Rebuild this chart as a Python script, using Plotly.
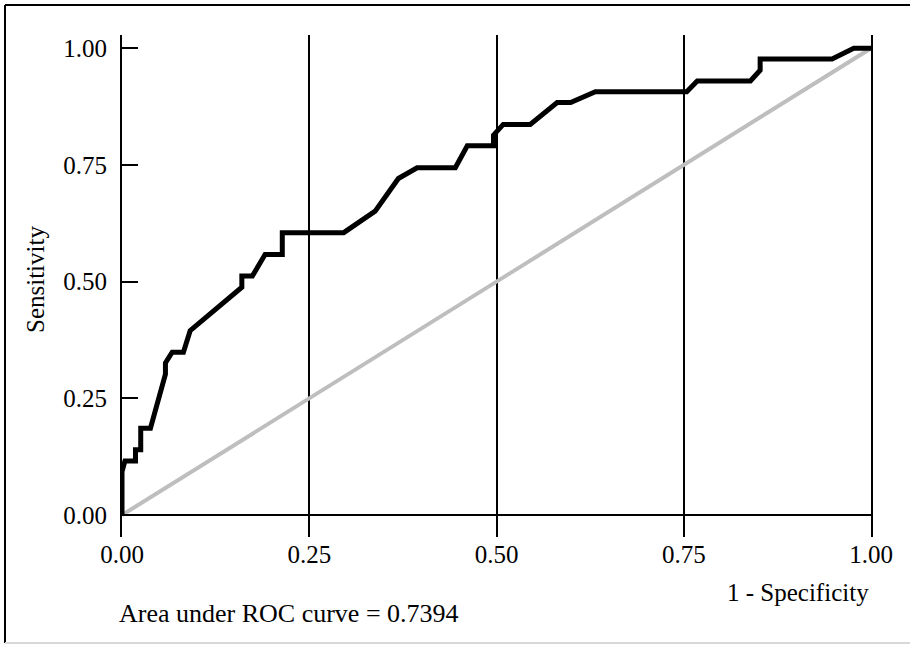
import plotly.graph_objects as go

# ROC curve vertices (1 - specificity, sensitivity)
fpr = [0.0, 0.0, 0.004, 0.018, 0.018, 0.025, 0.025, 0.038, 0.058, 0.058,
       0.067, 0.082, 0.091, 0.160, 0.160, 0.174, 0.191, 0.214, 0.214, 0.296,
       0.338, 0.369, 0.394, 0.445, 0.461, 0.496, 0.496, 0.509, 0.545, 0.581,
       0.599, 0.632, 0.754, 0.768, 0.839, 0.852, 0.852, 0.948, 0.977, 1.0]
tpr = [0.0, 0.093, 0.116, 0.116, 0.140, 0.140, 0.186, 0.186, 0.302, 0.326,
       0.349, 0.349, 0.395, 0.488, 0.512, 0.512, 0.558, 0.558, 0.605, 0.605,
       0.651, 0.721, 0.744, 0.744, 0.791, 0.791, 0.814, 0.837, 0.837, 0.884,
       0.884, 0.907, 0.907, 0.930, 0.930, 0.953, 0.977, 0.977, 1.0, 1.0]
ref_x = [0.0, 1.0]
ref_y = [0.0, 1.0]
tick_vals = [0.0, 0.25, 0.5, 0.75, 1.0]
tick_text = ["0.00", "0.25", "0.50", "0.75", "1.00"]
auc_text = "Area under ROC curve = 0.7394"

W, H = 910, 645
ML, MR, MT, MB = 122, 39, 35, 108
FONT = "Liberation Serif"
FS = 25

plot_w = W - ML - MR
plot_h = H - MT - MB


def px_x(px):
    return (px - ML) / plot_w


def px_y(py):
    return (H - MB - py) / plot_h


fig = go.Figure()
fig.add_trace(go.Scatter(x=ref_x, y=ref_y, mode="lines",
                         line=dict(color="#bebebe", width=4), hoverinfo="skip"))
fig.add_trace(go.Scatter(x=fpr, y=tpr, mode="lines",
                         line=dict(color="black", width=5)))

fig.update_layout(
    width=W, height=H,
    margin=dict(l=ML, r=MR, t=MT, b=MB),
    paper_bgcolor="white", plot_bgcolor="white",
    showlegend=False,
    font=dict(family=FONT, size=FS, color="black"),
    xaxis=dict(range=[0, 1], tickvals=tick_vals, ticktext=tick_text,
               showgrid=True, gridcolor="black", gridwidth=2,
               zeroline=False, showline=False, ticks="",
               ticklabelstandoff=0, fixedrange=True),
    yaxis=dict(range=[-0.0471, 1.0285], tickvals=tick_vals, ticktext=tick_text,
               showgrid=False, zeroline=True, zerolinecolor="black", zerolinewidth=2,
               showline=True, mirror=True, linecolor="black", linewidth=2,
               ticks="inside", ticklen=16, tickwidth=2, tickcolor="black",
               ticklabelstandoff=8, fixedrange=True),
)

# outer frame
fig.add_shape(type="line", xref="paper", yref="paper",
              x0=px_x(5), x1=px_x(915), y0=px_y(5), y1=px_y(5),
              line=dict(color="black", width=2))
fig.add_shape(type="line", xref="paper", yref="paper",
              x0=px_x(5), x1=px_x(5), y0=px_y(5), y1=px_y(643),
              line=dict(color="black", width=2))
fig.add_shape(type="line", xref="paper", yref="paper",
              x0=px_x(5), x1=px_x(915), y0=px_y(643), y1=px_y(643),
              line=dict(color="#d8d8d8", width=2))

fig.add_annotation(text="1 - Specificity", xref="paper", yref="paper",
                   x=1.0, y=px_y(592), xanchor="right", yanchor="middle",
                   showarrow=False)
fig.add_annotation(text=auc_text, xref="paper", yref="paper",
                   x=px_x(117), y=px_y(613), xanchor="left", yanchor="middle",
                   showarrow=False, font=dict(size=26))
fig.add_annotation(text="Sensitivity", xref="paper", yref="paper",
                   x=px_x(35), y=px_y(280), textangle=-90,
                   xanchor="center", yanchor="middle", showarrow=False)

fig.write_html("out.html", config={"displayModeBar": False},
               post_script="document.body.style.margin='0';document.body.style.overflow='hidden';")
